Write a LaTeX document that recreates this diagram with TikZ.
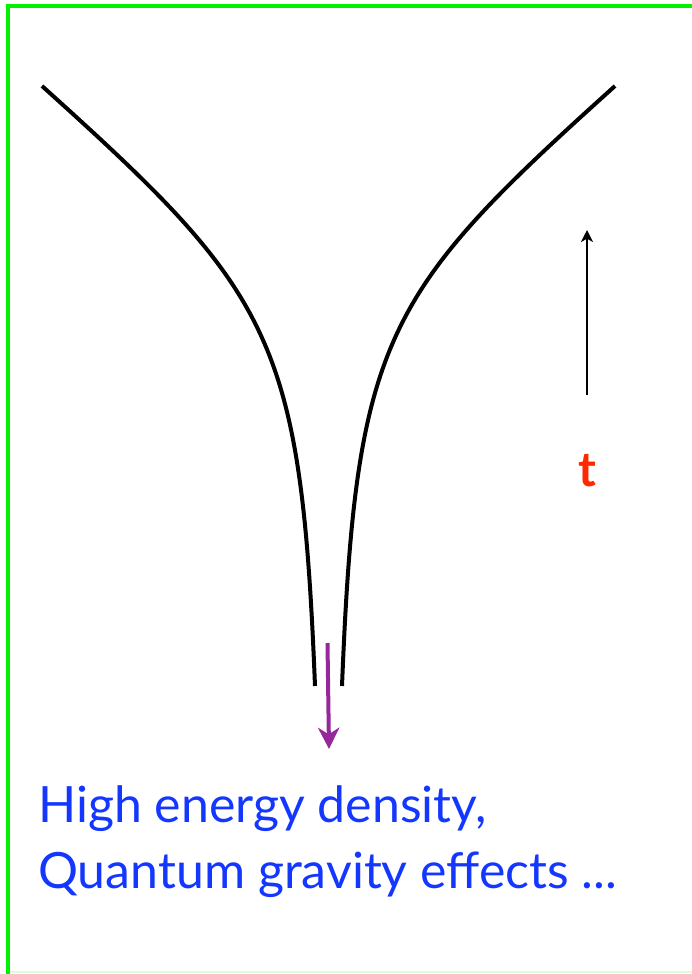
\documentclass[tikz,border=0pt]{standalone}
\usepackage{fontspec}
\setmainfont{Lato}
\usepackage{xcolor}
\usetikzlibrary{arrows.meta, positioning}

\definecolor{framegreen}{RGB}{0,240,0}
\definecolor{textblue}{RGB}{20,55,255}
\definecolor{timered}{RGB}{255,40,0}
\definecolor{arrpurple}{RGB}{150,40,155}

\begin{document}
\begin{tikzpicture}[
  x=0.75pt, y=-0.75pt,
  wall/.style={line width=3pt, black},
  frame/.style={line width=3pt, framegreen},
  tarr/.style={-{Stealth[length=9pt, width=9pt, inset=2.5pt]}, line width=1.5pt},
  parr/.style={-{Stealth[length=16pt, width=16pt, inset=5pt]}, line width=3pt, arrpurple},
  label/.style={font=\fontsize{37.5}{49.5}\selectfont, text=textblue, align=left, inner sep=0pt}
]
  \useasboundingbox (0,0) rectangle (692,974);

  % frame
  \draw[frame] (8,974) -- (8,6) -- (692,6);
  \draw[line width=1pt, framegreen!15] (10,972) -- (692,972);

  % the two walls
  \coordinate (ltop) at (42,86);
  \coordinate (lbot) at (315,686);
  \coordinate (rtop) at (615,86);
  \coordinate (rbot) at (342,686);
  \draw[wall] (ltop) .. controls (272,293) and (301,336) .. (lbot);
  \draw[wall] (rtop) .. controls (385,293) and (356,336) .. (rbot);

  % time direction
  \coordinate (tlow) at (587,395);
  \coordinate (thigh) at (587,230);
  \draw[tarr] (tlow) -- (thigh);
  \node[font=\fontsize{36}{40}\selectfont\bfseries, text=timered] (tlab) at (587,471) {t};

  % towards the singularity
  \coordinate (pstart) at (327.5,643);
  \coordinate (pend) at (329,749);
  \draw[parr] (pstart) -- (pend);

  \node[label, anchor=base west] (desc) at (38,888)
    {High energy density,\\Quantum gravity effects ...};
\end{tikzpicture}
\end{document}
